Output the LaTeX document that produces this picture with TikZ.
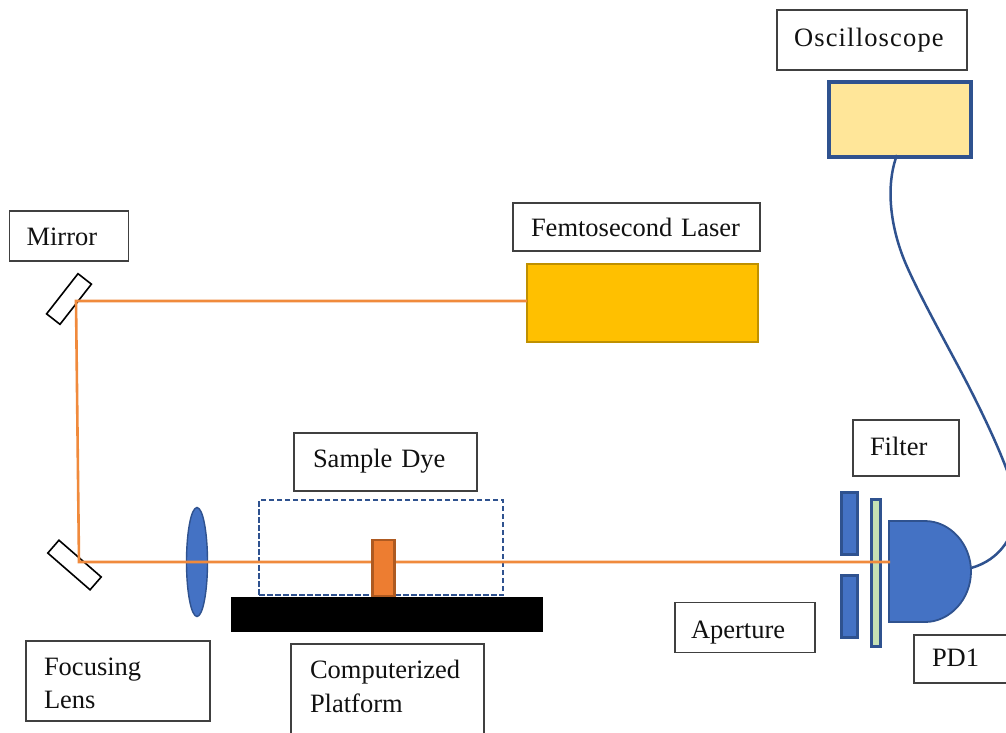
\documentclass[tikz,border=0pt]{standalone}
\usepackage{fontspec}
\setmainfont{Liberation Serif}
\newfontfamily\spacedserif[LetterSpace=4.4]{Liberation Serif}
\usetikzlibrary{shapes.geometric}
\definecolor{bluefill}{HTML}{4472C4}
\definecolor{blueline}{HTML}{2F528F}
\definecolor{beamc}{HTML}{F08A3C}
\definecolor{samplefill}{HTML}{ED7D31}
\definecolor{sampleline}{HTML}{AE5A21}
\definecolor{laserfill}{HTML}{FFC000}
\definecolor{laserline}{HTML}{BF9000}
\definecolor{scopefill}{HTML}{FFE699}
\definecolor{filterfill}{HTML}{C5E0B4}
\definecolor{labelline}{HTML}{404040}
\definecolor{textc}{HTML}{111111}
\tikzset{
  x=1pt,y=-1pt,
  labelbox/.style={draw=labelline,line width=1.5pt,fill=white,rectangle,inner sep=0pt,
    align=left,text=textc,font=\fontsize{26.5}{33.5}\selectfont},
  textoff/.style={text height=30pt,text depth={30pt-2*(#1)}},
  solidpart/.style={draw=blueline,fill=bluefill,line width=2.2pt,rectangle,inner sep=0pt},
  mirrorpart/.style={draw=black,fill=white,line width=1.6pt,rectangle,inner sep=0pt,minimum width=51pt,minimum height=17pt},
  beam/.style={draw=beamc,line width=2.6pt,line join=miter},
  cable/.style={draw=blueline,line width=2.5pt},
}
\begin{document}
\begin{tikzpicture}
\useasboundingbox (0,0) rectangle (1006,732);
\clip (0,0) rectangle (1006,732);
\fill[white] (0,0) rectangle (1006,732);

% optics
\node[mirrorpart,rotate=52] (mirrorTop) at (69,299) {};
\node[mirrorpart,minimum width=56pt,rotate=-41] (mirrorBot) at (74.5,565) {};
\coordinate (turnTop) at (76,301);
\coordinate (turnBot) at (79,562);
\node[draw=blueline,fill=bluefill,line width=1.4pt,ellipse,inner sep=0pt,minimum width=21pt,minimum height=109pt] (lens) at (197,562) {};
\node[draw=blueline,line width=2.3pt,dash pattern=on 5.5pt off 2.5pt,rectangle,inner sep=0pt,minimum width=244pt,minimum height=95pt] (sampleZone) at (381,547.5) {};
\node[fill=black,rectangle,inner sep=0pt,minimum width=312pt,minimum height=35pt] (platform) at (387,614.5) {};
\node[draw=laserline,fill=laserfill,line width=2.2pt,rectangle,inner sep=0pt,minimum width=231pt,minimum height=78pt] (laser) at (642.5,303) {};
\node[draw=blueline,fill=scopefill,line width=3.2pt,rectangle,inner sep=0pt,minimum width=142pt,minimum height=75pt] (scope) at (900,119.5) {};
\coordinate (laserOut) at (527,301);

% detector parts
\node[solidpart,minimum width=16pt,minimum height=62pt] (apTop) at (849.5,523.5) {};
\node[solidpart,minimum width=16pt,minimum height=62pt] (apBot) at (849.5,606.5) {};
\node[draw=blueline,fill=filterfill,line width=2.2pt,rectangle,inner sep=0pt,minimum width=9pt,minimum height=147pt] (filterBar) at (876,573) {};
\draw[blueline,fill=bluefill,line width=1.8pt] (889,521) -- (925,521)
  .. controls (950,521) and (971,544) .. (971,571.5)
  .. controls (971,599) and (950,622) .. (925,622) -- (889,622) -- cycle;
\coordinate (pdIn) at (890,562);
\coordinate (pdOut) at (971,568);
\coordinate (scopeOut) at (897,155);

% beam and sample
\draw[beam] (laserOut) -- (turnTop) -- (turnBot) -- (pdIn);
\node[draw=sampleline,fill=samplefill,line width=2.2pt,rectangle,inner sep=0pt,minimum width=22pt,minimum height=56pt] (sample) at (383.5,568) {};

% cable
\draw[cable] (scopeOut) .. controls (888,178) and (887,215) .. (903,257)
  .. controls (915,288) and (950,350) .. (967,383)
  .. controls (985,418) and (1015,480) .. (1016,505)
  .. controls (1017,535) and (1000,560) .. (pdOut);

% labels
\node[labelbox,textoff=6,minimum width=190pt,minimum height=60pt,text width=156pt,font=\spacedserif\fontsize{26.5}{33.5}\selectfont] (lblScope) at (872,40) {Oscilloscope};
\node[labelbox,textoff=9,minimum width=119pt,minimum height=50pt,text width=85pt] (lblMirror) at (69,236) {Mirror};
\node[labelbox,textoff=9,minimum width=247pt,minimum height=48pt,text width=211pt] (lblLaser) at (636.5,227) {Femtosecond Laser};
\node[labelbox,textoff=5,minimum width=183pt,minimum height=58pt,text width=145pt] (lblDye) at (385.5,462) {Sample Dye};
\node[labelbox,textoff=7,minimum width=106pt,minimum height=56pt,text width=72pt] (lblFilter) at (906,448) {Filter};
\node[labelbox,textoff=10.5,minimum width=140pt,minimum height=50pt,text width=108pt] (lblAperture) at (745,627.5) {Aperture};
\node[labelbox,textoff=7.5,minimum width=110pt,minimum height=48pt,text width=74pt] (lblPD) at (969,659) {PD1};
\node[labelbox,textoff=-6,minimum width=184pt,minimum height=80pt,text width=148pt] (lblFocus) at (118,681) {Focusing\\Lens};
\node[labelbox,textoff=-15.5,minimum width=193pt,minimum height=100pt,text width=155pt] (lblPlatform) at (387.5,694) {Computerized\\Platform};
\end{tikzpicture}
\end{document}
